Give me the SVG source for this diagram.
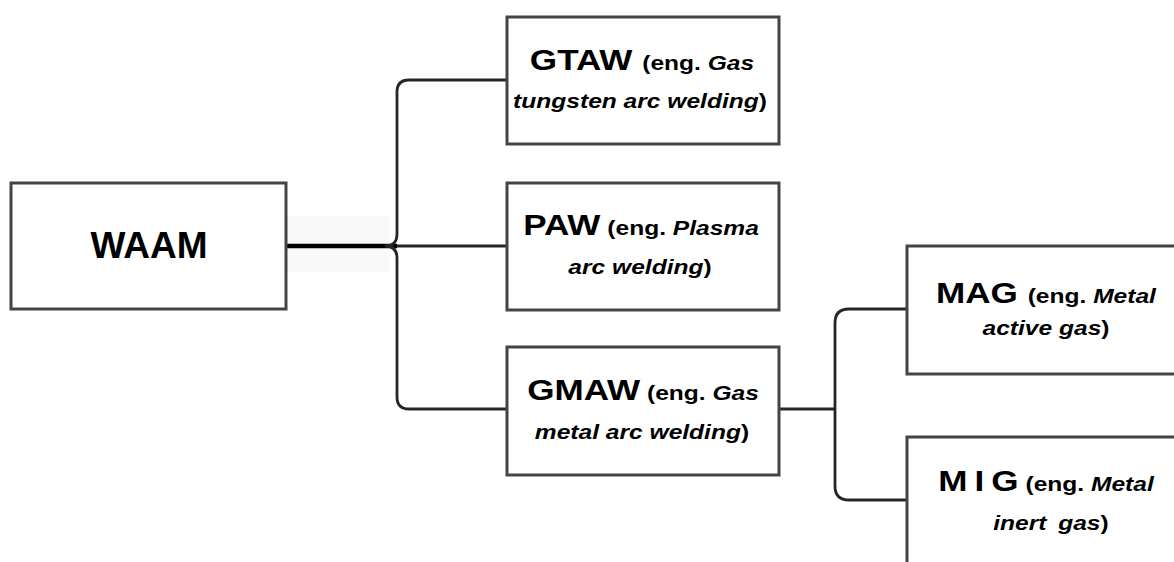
<svg xmlns="http://www.w3.org/2000/svg" width="1174" height="562" viewBox="0 0 1174 562">
  <style>
    .box { fill: #ffffff; stroke: #444444; stroke-width: 3; }
    .conn { fill: none; stroke: #262626; stroke-width: 2.8; }
    .main { fill: none; stroke: #000000; stroke-width: 4.5; }
    text { font-family: "Liberation Sans", Arial, sans-serif; font-weight: bold; fill: #000000; text-anchor: middle; }
    .big { font-size: 30px; }
    .sm { font-size: 21px; }
    .it { font-style: italic; }
    .root { font-size: 37px; }
  </style>
  <rect width="1174" height="562" fill="#ffffff"/>
  <rect x="286" y="216" width="104" height="56" fill="#f9f9f9"/>

  <g id="connectors">
    <path class="main" d="M 286 246 H 397"/>
    <path class="conn" d="M 507 80 H 409 Q 397 80 397 92 V 234 Q 397 246 385 246"/>
    <path class="conn" d="M 507 409 H 409 Q 397 409 397 397 V 258 Q 397 246 385 246"/>
    <path class="conn" d="M 397 246 H 507"/>
    <path class="conn" d="M 779 409 H 835"/>
    <path class="conn" d="M 907 309 H 849 Q 835 309 835 323 V 486 Q 835 500 849 500 H 907"/>
  </g>

  <g id="node-waam">
    <rect class="box" x="11" y="183" width="275" height="126"/>
    <text class="root" x="149" y="258">WAAM</text>
  </g>

  <g id="node-gtaw">
    <rect class="box" x="507" y="17" width="272" height="127"/>
    <text transform="translate(642,70) scale(1.17,1)"><tspan class="big">GTAW </tspan><tspan class="sm">(eng. </tspan><tspan class="sm it">Gas</tspan></text>
    <text transform="translate(640,108) scale(1.17,1)"><tspan class="sm it">tungsten arc welding</tspan><tspan class="sm">)</tspan></text>
  </g>

  <g id="node-paw">
    <rect class="box" x="507" y="183" width="272" height="127"/>
    <text transform="translate(641,235) scale(1.17,1)"><tspan class="big">PAW</tspan><tspan class="sm"> (eng. </tspan><tspan class="sm it">Plasma</tspan></text>
    <text transform="translate(640,274) scale(1.17,1)"><tspan class="sm it">arc welding</tspan><tspan class="sm">)</tspan></text>
  </g>

  <g id="node-gmaw">
    <rect class="box" x="507" y="347" width="272" height="128"/>
    <text transform="translate(643,400) scale(1.17,1)"><tspan class="big">GMAW</tspan><tspan class="sm"> (eng. </tspan><tspan class="sm it">Gas</tspan></text>
    <text transform="translate(642,439) scale(1.17,1)"><tspan class="sm it">metal arc welding</tspan><tspan class="sm">)</tspan></text>
  </g>

  <g id="node-mag">
    <rect class="box" x="907" y="246" width="290" height="128"/>
    <text transform="translate(1046,303) scale(1.17,1)"><tspan class="big">MAG </tspan><tspan class="sm">(eng. </tspan><tspan class="sm it">Metal</tspan></text>
    <text transform="translate(1046,335) scale(1.17,1)"><tspan class="sm it">active gas</tspan><tspan class="sm">)</tspan></text>
  </g>

  <g id="node-mig">
    <rect class="box" x="907" y="437" width="290" height="150"/>
    <text transform="translate(1046,491) scale(1.17,1)"><tspan class="big" letter-spacing="6">MIG</tspan><tspan class="sm">(eng. </tspan><tspan class="sm it">Metal</tspan></text>
    <text transform="translate(1051,530) scale(1.17,1)"><tspan class="sm it">inert</tspan><tspan class="sm it" dx="10">gas</tspan><tspan class="sm">)</tspan></text>
  </g>
</svg>
